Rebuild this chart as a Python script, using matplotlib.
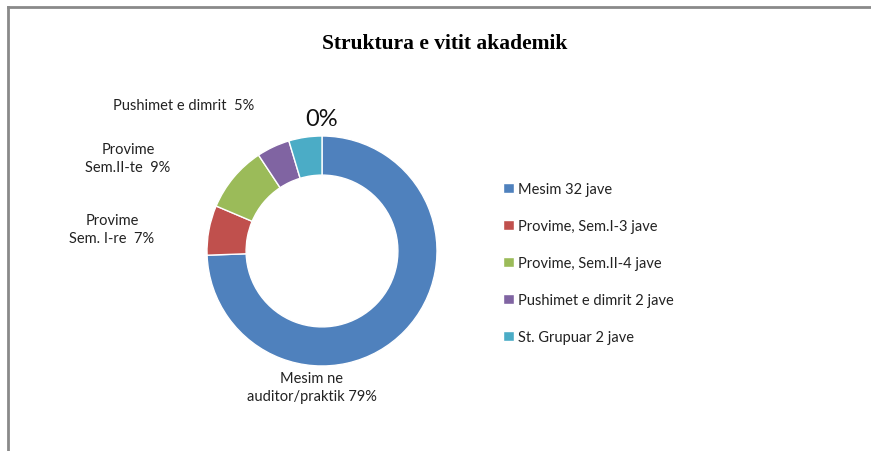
import matplotlib.pyplot as plt
from matplotlib.lines import Line2D

# weeks of each part of the academic year
weeks = [32, 3, 4, 2, 2]
legend_labels = ["Mesim 32 jave", "Provime, Sem.I-3 jave", "Provime, Sem.II-4 jave",
                 "Pushimet e dimrit 2 jave", "St. Grupuar 2 jave"]
slice_labels = ["Mesim ne\nauditor/praktik 79%", "Provime\nSem. I-re  7%",
                "Provime\nSem.II-te  9%", "Pushimet e dimrit  5%", "0%"]
colors = ["#4F81BD", "#C0504D", "#9BBB59", "#8064A2", "#4BACC6"]

W, H = 871, 452
fig = plt.figure(figsize=(W / 100, H / 100), dpi=100)
fig.patch.set_facecolor("white")

# frame lines (top and left)
fig.add_artist(Line2D([8 / W, 1], [1 - 8 / H, 1 - 8 / H], color="#8a8a8a", lw=2))
fig.add_artist(Line2D([8 / W, 8 / W], [0, 1 - 8 / H], color="#8a8a8a", lw=2))

cx, cy, r_px = 322, 252, 115
half = 150
ax = fig.add_axes([(cx - half) / W, 1 - (cy + half) / H, 2 * half / W, 2 * half / H])

wedges, _ = ax.pie(weeks, colors=colors, startangle=90, counterclock=False,
                   radius=1.0, wedgeprops=dict(width=0.34, edgecolor="white", linewidth=1))
ax.set_xlim(-half / r_px, half / r_px)
ax.set_ylim(-half / r_px, half / r_px)
ax.set_aspect("equal")
ax.axis("off")

lab_font = dict(family="Lato", fontsize=10.5, color="#222222")
fig.text(312 / W, 1 - 388 / H, slice_labels[0], ha="center", va="center",
         linespacing=1.4, **lab_font)
fig.text(112 / W, 1 - 230 / H, slice_labels[1], ha="center", va="center",
         linespacing=1.4, **lab_font)
fig.text(128 / W, 1 - 159 / H, slice_labels[2], ha="center", va="center",
         linespacing=1.4, **lab_font)
fig.text(184 / W, 1 - 106 / H, slice_labels[3], ha="center", va="center", **lab_font)
fig.text(322 / W, 1 - 120 / H, slice_labels[4], ha="center", va="center",
         family="Lato", fontsize=17, color="#111111")

fig.text(445 / W, 1 - 44 / H, "Struktura e vitit akademik", ha="center", va="center",
         family="Liberation Serif", fontweight="bold", fontsize=15.5)

fig.legend(wedges, legend_labels, loc="upper left",
           bbox_to_anchor=(496 / W, 1 - 176 / H), frameon=False,
           prop=dict(family="Lato", size=10.5), labelcolor="#222222",
           handlelength=0.7, handleheight=0.7, handletextpad=0.3,
           labelspacing=1.58, borderpad=0)

fig.savefig("out.png", dpi=100, facecolor="white")
